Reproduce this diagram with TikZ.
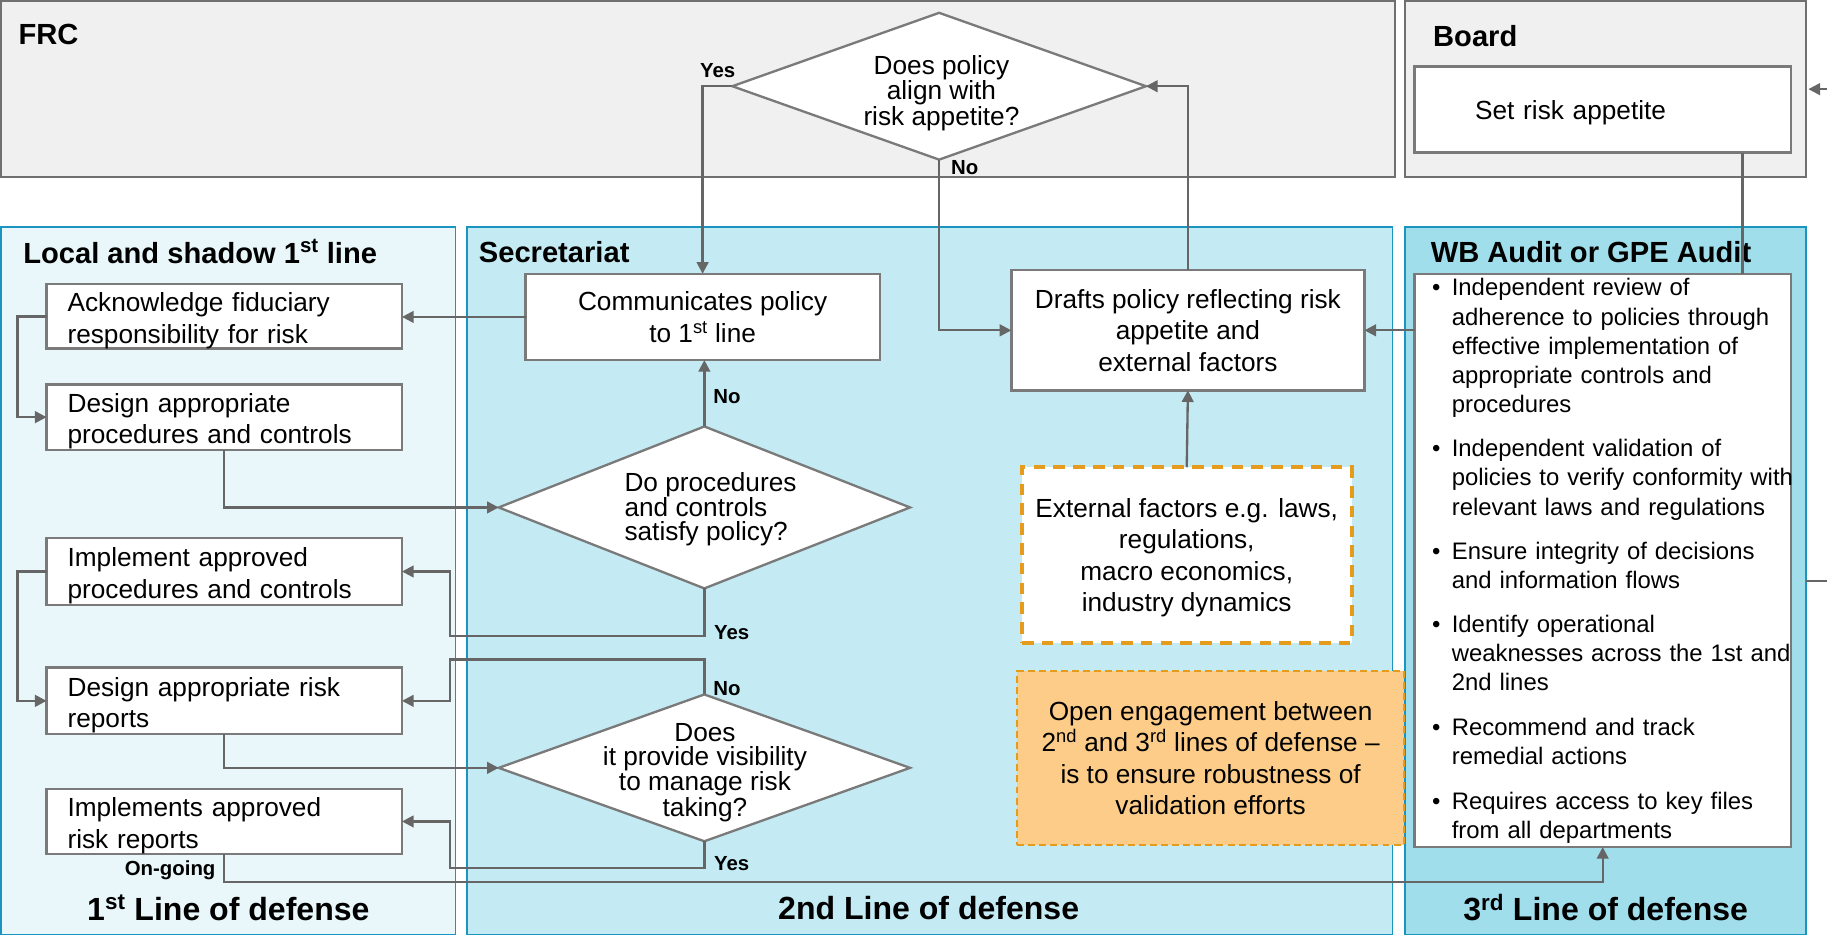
\documentclass[tikz,border=0pt]{standalone}
\usepackage{fontspec}
\setmainfont{Liberation Sans}
\usetikzlibrary{arrows.meta,shapes.geometric}

\definecolor{linegray}{HTML}{666666}
\definecolor{boxgray}{HTML}{7A7A7A}
\definecolor{frcfill}{HTML}{F0F0F0}
\definecolor{frcborder}{HTML}{707070}
\definecolor{colborder}{HTML}{1A95C0}
\definecolor{colonefill}{HTML}{E9F7FA}
\definecolor{coltwofill}{HTML}{C4EBF3}
\definecolor{colthreefill}{HTML}{A0DEEC}
\definecolor{ambercol}{HTML}{E59C1C}
\definecolor{openfill}{HTML}{FDCC88}

% start of one bullet point; its later lines hang under the first word
\newcommand\bulitem{\par\noindent\hangindent=17pt\hangafter=1\makebox[17pt][l]{\textbullet}}

\begin{document}
\begin{tikzpicture}[x=1pt,y=-1pt,
  every node/.style={inner sep=0pt,outer sep=0pt},
  panel/.style={draw=frcborder,line width=1.8pt,fill=frcfill},
  lane/.style={draw=colborder,line width=1.3pt},
  heading/.style={font=\fontsize{25}{29}\selectfont\bfseries,anchor=west},
  footer/.style={font=\fontsize{27.5}{31}\selectfont\bfseries},
  body/.style={font=\fontsize{22.5}{27}\selectfont},
  stepbox/.style={body,draw=boxgray,line width=2pt,fill=white,text depth=24.5pt,
    minimum width=305pt,text width=269pt,inner xsep=18pt,align=left},
  cbox/.style={body,draw=boxgray,line width=2pt,fill=white,align=center},
  decision/.style={diamond,draw=boxgray,line width=2pt,fill=white,
    minimum width=353pt},
  qtext/.style={font=\fontsize{22.5}{20.5}\selectfont},
  tag/.style={font=\fontsize{17.5}{20}\selectfont\bfseries},
  flow/.style={draw=linegray,line width=2pt,-{Triangle[length=10pt,width=10pt]}},
  plain/.style={draw=linegray,line width=2pt}]

\useasboundingbox (0,0) rectangle (1568,803);
\clip (0,0) rectangle (1568,803);

% top governance panels
\node[panel,minimum width=1196pt,minimum height=151pt] (frc) at (599,76.5) {};
\node[panel,minimum width=344pt,minimum height=151pt] (board) at (1378,76.5) {};
\node[heading] (frctitle) at (16,30) {FRC};
\node[heading] (boardtitle) at (1230,31) {Board};

% three lines of defense
\node[lane,fill=colonefill,minimum width=390pt,minimum height=607pt] (lineone) at (196,498.5) {};
\node[lane,fill=coltwofill,minimum width=794pt,minimum height=607pt] (linetwo) at (798,498.5) {};
\node[lane,fill=colthreefill,minimum width=344pt,minimum height=607pt] (linethree) at (1378,498.5) {};
\node[heading] (lineonetitle) at (20,216) {Local and shadow 1\textsuperscript{st} line};
\node[heading] (linetwotitle) at (411,216) {Secretariat};
\node[heading] (linethreetitle) at (1228,216) {WB Audit or GPE Audit};
\node[footer] (lineonefoot) at (196,779) {1\textsuperscript{st} Line of defense};
\node[footer] (linetwofoot) at (797,779) {2nd Line of defense};
\node[footer] (linethreefoot) at (1378,779) {3\textsuperscript{rd} Line of defense};

% board
\node[body,draw=boxgray,line width=2pt,fill=white,minimum width=323pt,minimum height=74pt,
  text width=219pt,inner xsep=52pt,align=left,text depth=0pt] (appetite) at (1375.5,94) {Set risk appetite};

% first line steps
\node[stepbox,minimum height=55pt] (ack) at (192.5,271.5) {Acknowledge fiduciary\\responsibility for risk};
\node[stepbox,minimum height=56pt] (designpc) at (192.5,358) {Design appropriate\\procedures and controls};
\node[stepbox,minimum height=57pt] (implpc) at (192.5,490.5) {Implement approved\\procedures and controls};
\node[stepbox,minimum height=57pt] (designrr) at (192.5,601.5) {Design appropriate risk\\reports};
\node[stepbox,minimum height=56pt] (implrr) at (192.5,705) {Implements approved\\risk reports};

% secretariat
\node[cbox,minimum width=304pt,minimum height=74pt] (comm) at (603,272) {Communicates policy\\to 1\textsuperscript{st} line};
\node[cbox,minimum width=303pt,minimum height=103pt] (drafts) at (1019.5,283.5) {Drafts policy reflecting risk\\appetite and\\external factors};
\node[cbox,draw=ambercol,line width=3.5pt,dash pattern=on 10pt off 7pt,text depth=-3pt,
  minimum width=283pt,minimum height=151pt] (external) at (1018.5,476.5)
  {External factors e.g. laws,\\regulations,\\macro economics,\\industry dynamics};
\node[cbox,draw=ambercol,fill=openfill,line width=1.3pt,dash pattern=on 6pt off 3.5pt,
  minimum width=332pt,minimum height=149pt] (openeng) at (1039,650.5)
  {Open engagement between\\2\textsuperscript{nd} and 3\textsuperscript{rd} lines of defense --\\is to ensure robustness of\\validation efforts};

% decisions
\node[decision,minimum width=355pt,minimum height=126pt] (align) at (806,74) {};
\node[qtext,align=center] (aligntext) at (808,80) {Does policy\\align with\\risk appetite?};
\node[decision,minimum height=139pt] (satisfy) at (604.5,435.5) {};
\node[qtext,align=left,anchor=west] (satisfytext) at (536,437) {Do procedures\\and controls\\satisfy policy?};
\node[decision,minimum height=126pt] (visible) at (604.5,659) {};
\node[qtext,align=center] (visibletext) at (605,663) {Does\\it provide visibility\\to manage risk\\taking?};

% third line
\node[draw=boxgray,line width=2pt,fill=white,minimum width=323pt,minimum height=492pt] (audit) at (1375.5,481) {};
\node[font=\fontsize{20.5}{25}\selectfont,text width=335pt,anchor=north west] (audittext) at (1229,229) {%
\raggedright
\bulitem Independent review of\newline adherence to policies through\newline effective implementation of\newline appropriate controls and\newline procedures\par\vspace{13pt}
\bulitem Independent validation of\newline policies to verify conformity with\newline relevant laws and regulations\par\vspace{13pt}
\bulitem Ensure integrity of decisions\newline and information flows\par\vspace{13pt}
\bulitem Identify operational\newline weaknesses across the 1st and\newline 2nd lines\par\vspace{13.5pt}
\bulitem Recommend and track\newline remedial actions\par\vspace{13.5pt}
\bulitem Requires access to key files\newline from all departments\par};

% connectors
\draw[flow] (align.west) -| (comm.north);
\draw[flow] (align.south) |- (drafts.west);
\draw[flow] (drafts.north) |- (align.east);
\draw[flow] (audit.west |- drafts.east) -- (drafts.east);
\draw[flow] (external.north) -- (drafts.south);
\draw[flow] (comm.west) -- (comm.west -| ack.east);
\draw[flow] (ack.west) -- ++(-25,0) |- (designpc.west);
\draw[flow] (designpc.south) |- (satisfy.west);
\draw[flow] (satisfy.north) -- (satisfy.north |- comm.south);
\draw[flow] (satisfy.south) -- ++(0,41) -| ([xshift=41pt]implpc.east) -- (implpc.east);
\draw[flow] (implpc.west) -- ++(-25,0) |- (designrr.west);
\draw[flow] (designrr.south) |- (visible.west);
\draw[flow] (visible.north) -- ++(0,-30) -| ([xshift=41pt]designrr.east) -- (designrr.east);
\draw[flow] (visible.south) -- ++(0,23) -| ([xshift=41pt]implrr.east) -- (implrr.east);
\draw[flow] (implrr.south) -- ++(0,24) -| (audit.south);
\draw[plain] ([xshift=120pt]appetite.south) -- ([xshift=120pt]audit.north);
\draw[flow] (linethree.east) -- ++(25,0) |- ([xshift=2pt]board.east);

% branch labels
\node[tag] (yesalign) at (616,61) {Yes};
\node[tag] (noalign) at (828,144) {No};
\node[tag] (nosatisfy) at (624,340) {No};
\node[tag] (yessatisfy) at (628,543) {Yes};
\node[tag] (novisible) at (624,591) {No};
\node[tag] (yesvisible) at (628,741) {Yes};
\node[tag] (ongoing) at (146,747) {On-going};
\end{tikzpicture}
\end{document}
